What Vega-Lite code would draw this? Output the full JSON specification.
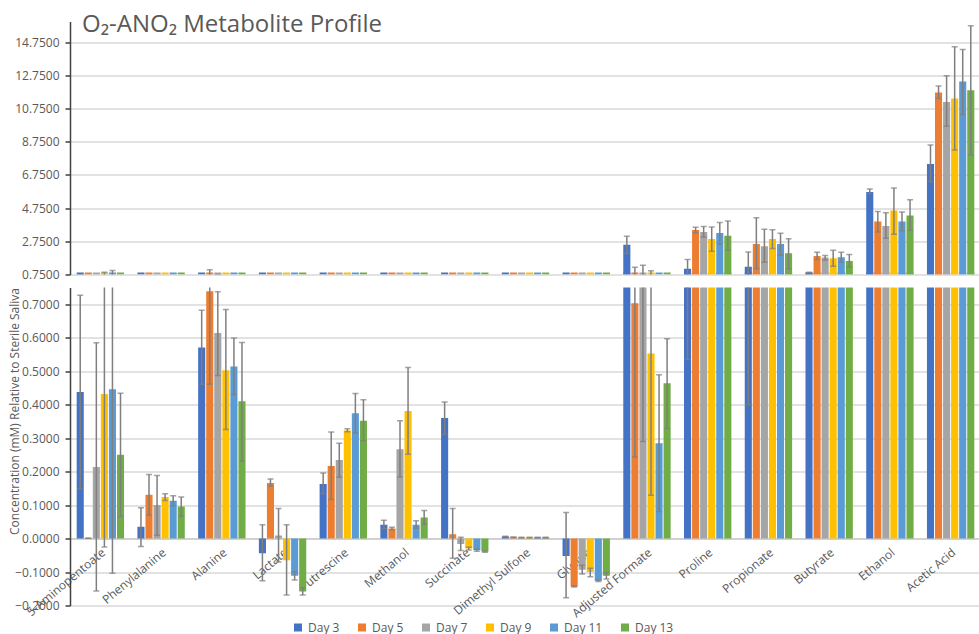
{
  "$schema": "https://vega.github.io/schema/vega-lite/v6.json",
  "padding": {"left": 8, "top": 12.5, "right": 0, "bottom": 4},
  "config": {
    "font": "Open Sans",
    "view": {"stroke": null},
    "axis": {"labelColor": "#595959", "labelFontSize": 12, "titleColor": "#595959", "gridColor": "#d9d9d9", "gridWidth": 1.3, "domainColor": "#404040", "tickColor": "#404040", "labelOverlap": false},
    "axisQuantitative": {"labelOverlap": false},
    "axisY": {"domainWidth": 1.5, "tickWidth": 1.5, "tickSize": 5, "labelPadding": 6, "labelOverlap": false},
    "legend": {"labelColor": "#595959", "labelFontSize": 12, "symbolType": "square", "symbolSize": 64, "symbolStrokeWidth": 0, "columnPadding": 16}
  },
  "data": {"values": [
    {"m": "5-Aminopentoate", "d": "Day 3", "v": 0.438, "lo": 0.149, "hi": 0.727},
    {"m": "5-Aminopentoate", "d": "Day 5", "v": 0.001, "lo": 0.001, "hi": 0.001},
    {"m": "5-Aminopentoate", "d": "Day 7", "v": 0.214, "lo": -0.157, "hi": 0.585},
    {"m": "5-Aminopentoate", "d": "Day 9", "v": 0.432, "lo": -0.025, "hi": 0.889},
    {"m": "5-Aminopentoate", "d": "Day 11", "v": 0.446, "lo": -0.104, "hi": 0.996},
    {"m": "5-Aminopentoate", "d": "Day 13", "v": 0.25, "lo": 0.066, "hi": 0.434},
    {"m": "Phenylalanine", "d": "Day 3", "v": 0.035, "lo": -0.024, "hi": 0.092},
    {"m": "Phenylalanine", "d": "Day 5", "v": 0.131, "lo": 0.07, "hi": 0.191},
    {"m": "Phenylalanine", "d": "Day 7", "v": 0.1, "lo": 0.01, "hi": 0.188},
    {"m": "Phenylalanine", "d": "Day 9", "v": 0.124, "lo": 0.114, "hi": 0.134},
    {"m": "Phenylalanine", "d": "Day 11", "v": 0.113, "lo": 0.098, "hi": 0.128},
    {"m": "Phenylalanine", "d": "Day 13", "v": 0.096, "lo": 0.067, "hi": 0.124},
    {"m": "Alanine", "d": "Day 3", "v": 0.571, "lo": 0.461, "hi": 0.682},
    {"m": "Alanine", "d": "Day 5", "v": 0.739, "lo": 0.461, "hi": 1.03},
    {"m": "Alanine", "d": "Day 7", "v": 0.614, "lo": 0.487, "hi": 0.737},
    {"m": "Alanine", "d": "Day 9", "v": 0.503, "lo": 0.326, "hi": 0.684},
    {"m": "Alanine", "d": "Day 11", "v": 0.514, "lo": 0.43, "hi": 0.599},
    {"m": "Alanine", "d": "Day 13", "v": 0.41, "lo": 0.232, "hi": 0.586},
    {"m": "Lactate", "d": "Day 3", "v": -0.044, "lo": -0.126, "hi": 0.041},
    {"m": "Lactate", "d": "Day 5", "v": 0.166, "lo": 0.156, "hi": 0.178},
    {"m": "Lactate", "d": "Day 7", "v": 0.009, "lo": -0.07, "hi": 0.09},
    {"m": "Lactate", "d": "Day 9", "v": -0.065, "lo": -0.169, "hi": 0.041},
    {"m": "Lactate", "d": "Day 11", "v": -0.111, "lo": -0.124, "hi": -0.099},
    {"m": "Lactate", "d": "Day 13", "v": -0.158, "lo": -0.169, "hi": -0.147},
    {"m": "Putrescine", "d": "Day 3", "v": 0.163, "lo": 0.134, "hi": 0.196},
    {"m": "Putrescine", "d": "Day 5", "v": 0.217, "lo": 0.117, "hi": 0.318},
    {"m": "Putrescine", "d": "Day 7", "v": 0.235, "lo": 0.183, "hi": 0.285},
    {"m": "Putrescine", "d": "Day 9", "v": 0.323, "lo": 0.319, "hi": 0.328},
    {"m": "Putrescine", "d": "Day 11", "v": 0.374, "lo": 0.315, "hi": 0.433},
    {"m": "Putrescine", "d": "Day 13", "v": 0.352, "lo": 0.292, "hi": 0.415},
    {"m": "Methanol", "d": "Day 3", "v": 0.041, "lo": 0.029, "hi": 0.055},
    {"m": "Methanol", "d": "Day 5", "v": 0.03, "lo": 0.026, "hi": 0.034},
    {"m": "Methanol", "d": "Day 7", "v": 0.267, "lo": 0.184, "hi": 0.352},
    {"m": "Methanol", "d": "Day 9", "v": 0.381, "lo": 0.252, "hi": 0.511},
    {"m": "Methanol", "d": "Day 11", "v": 0.041, "lo": 0.031, "hi": 0.053},
    {"m": "Methanol", "d": "Day 13", "v": 0.063, "lo": 0.043, "hi": 0.084},
    {"m": "Succinate", "d": "Day 3", "v": 0.36, "lo": 0.311, "hi": 0.408},
    {"m": "Succinate", "d": "Day 5", "v": 0.013, "lo": -0.059, "hi": 0.09},
    {"m": "Succinate", "d": "Day 7", "v": -0.016, "lo": -0.036, "hi": 0.004},
    {"m": "Succinate", "d": "Day 9", "v": -0.03, "lo": -0.034, "hi": -0.026},
    {"m": "Succinate", "d": "Day 11", "v": -0.035, "lo": -0.038, "hi": -0.032},
    {"m": "Succinate", "d": "Day 13", "v": -0.039, "lo": -0.041, "hi": -0.037},
    {"m": "Dimethyl Sulfone", "d": "Day 3", "v": 0.006, "lo": 0.005, "hi": 0.007},
    {"m": "Dimethyl Sulfone", "d": "Day 5", "v": 0.004, "lo": 0.003, "hi": 0.005},
    {"m": "Dimethyl Sulfone", "d": "Day 7", "v": 0.003, "lo": 0.002, "hi": 0.004},
    {"m": "Dimethyl Sulfone", "d": "Day 9", "v": 0.003, "lo": 0.002, "hi": 0.004},
    {"m": "Dimethyl Sulfone", "d": "Day 11", "v": 0.003, "lo": 0.002, "hi": 0.004},
    {"m": "Dimethyl Sulfone", "d": "Day 13", "v": 0.003, "lo": 0.002, "hi": 0.004},
    {"m": "Glycine", "d": "Day 3", "v": -0.052, "lo": -0.177, "hi": 0.078},
    {"m": "Glycine", "d": "Day 5", "v": -0.143, "lo": -0.145, "hi": -0.141},
    {"m": "Glycine", "d": "Day 7", "v": -0.093, "lo": -0.106, "hi": -0.08},
    {"m": "Glycine", "d": "Day 9", "v": -0.1, "lo": -0.114, "hi": -0.089},
    {"m": "Glycine", "d": "Day 11", "v": -0.126, "lo": -0.128, "hi": -0.124},
    {"m": "Glycine", "d": "Day 13", "v": -0.111, "lo": -0.121, "hi": -0.101},
    {"m": "Adjusted Formate", "d": "Day 3", "v": 2.54, "lo": 2.01, "hi": 3.06},
    {"m": "Adjusted Formate", "d": "Day 5", "v": 0.703, "lo": 0.244, "hi": 1.18},
    {"m": "Adjusted Formate", "d": "Day 7", "v": 0.78, "lo": 0.29, "hi": 1.31},
    {"m": "Adjusted Formate", "d": "Day 9", "v": 0.553, "lo": 0.129, "hi": 0.98},
    {"m": "Adjusted Formate", "d": "Day 11", "v": 0.285, "lo": 0.081, "hi": 0.489},
    {"m": "Adjusted Formate", "d": "Day 13", "v": 0.464, "lo": 0.329, "hi": 0.597},
    {"m": "Proline", "d": "Day 3", "v": 1.09, "lo": 0.535, "hi": 1.65},
    {"m": "Proline", "d": "Day 5", "v": 3.43, "lo": 3.26, "hi": 3.6},
    {"m": "Proline", "d": "Day 7", "v": 3.31, "lo": 2.99, "hi": 3.65},
    {"m": "Proline", "d": "Day 9", "v": 2.89, "lo": 2.15, "hi": 3.61},
    {"m": "Proline", "d": "Day 11", "v": 3.25, "lo": 2.59, "hi": 3.89},
    {"m": "Proline", "d": "Day 13", "v": 3.09, "lo": 2.21, "hi": 3.97},
    {"m": "Propionate", "d": "Day 3", "v": 1.21, "lo": 0.4, "hi": 2.1},
    {"m": "Propionate", "d": "Day 5", "v": 2.59, "lo": 1.09, "hi": 4.17},
    {"m": "Propionate", "d": "Day 7", "v": 2.45, "lo": 1.49, "hi": 3.47},
    {"m": "Propionate", "d": "Day 9", "v": 2.89, "lo": 2.31, "hi": 3.45},
    {"m": "Propionate", "d": "Day 11", "v": 2.59, "lo": 1.91, "hi": 3.23},
    {"m": "Propionate", "d": "Day 13", "v": 2.03, "lo": 1.09, "hi": 2.91},
    {"m": "Butyrate", "d": "Day 3", "v": 0.86, "lo": 0.84, "hi": 0.88},
    {"m": "Butyrate", "d": "Day 5", "v": 1.87, "lo": 1.65, "hi": 2.09},
    {"m": "Butyrate", "d": "Day 7", "v": 1.77, "lo": 1.63, "hi": 1.89},
    {"m": "Butyrate", "d": "Day 9", "v": 1.73, "lo": 1.25, "hi": 2.21},
    {"m": "Butyrate", "d": "Day 11", "v": 1.79, "lo": 1.49, "hi": 2.09},
    {"m": "Butyrate", "d": "Day 13", "v": 1.57, "lo": 1.19, "hi": 1.95},
    {"m": "Ethanol", "d": "Day 3", "v": 5.73, "lo": 5.63, "hi": 5.91},
    {"m": "Ethanol", "d": "Day 5", "v": 3.95, "lo": 3.31, "hi": 4.55},
    {"m": "Ethanol", "d": "Day 7", "v": 3.67, "lo": 2.93, "hi": 4.47},
    {"m": "Ethanol", "d": "Day 9", "v": 4.61, "lo": 3.17, "hi": 5.97},
    {"m": "Ethanol", "d": "Day 11", "v": 3.95, "lo": 3.39, "hi": 4.51},
    {"m": "Ethanol", "d": "Day 13", "v": 4.31, "lo": 3.41, "hi": 5.25},
    {"m": "Acetic Acid", "d": "Day 3", "v": 7.41, "lo": 6.32, "hi": 8.56},
    {"m": "Acetic Acid", "d": "Day 5", "v": 11.72, "lo": 11.36, "hi": 12.11},
    {"m": "Acetic Acid", "d": "Day 7", "v": 11.15, "lo": 9.68, "hi": 12.73},
    {"m": "Acetic Acid", "d": "Day 9", "v": 11.36, "lo": 8.26, "hi": 14.48},
    {"m": "Acetic Acid", "d": "Day 11", "v": 12.38, "lo": 10.4, "hi": 14.31},
    {"m": "Acetic Acid", "d": "Day 13", "v": 11.85, "lo": 7.95, "hi": 15.75}
  ]},
  "spacing": 13,
  "bounds": "flush",
  "resolve": {"scale": {"y": "independent"}},
  "vconcat": [
    {
      "width": 911,
      "height": 253,
      "title": {"text": "O₂-ANO₂ Metabolite Profile", "anchor": "start", "frame": "group", "offset": -15, "dx": 12, "fontSize": 24, "fontWeight": "normal", "color": "#595959"},
      "encoding": {
        "x": {"field": "m", "type": "nominal", "sort": ["5-Aminopentoate","Phenylalanine","Alanine","Lactate","Putrescine","Methanol","Succinate","Dimethyl Sulfone","Glycine","Adjusted Formate","Proline","Propionate","Butyrate","Ethanol","Acetic Acid"], "scale": {"paddingInner": 0.22, "paddingOuter": 0.11}, "axis": null},
        "xOffset": {"field": "d", "type": "nominal", "sort": ["Day 3","Day 5","Day 7","Day 9","Day 11","Day 13"], "scale": {"paddingInner": 0.12}}
      },
      "layer": [
        {
          "mark": {"type": "bar", "clip": true},
          "encoding": {
            "y": {"field": "v", "type": "quantitative", "stack": null, "scale": {"domain": [0.75, 16], "nice": false, "zero": false}, "axis": {"title": null, "values": [0.75, 2.75, 4.75, 6.75, 8.75, 10.75, 12.75, 14.75], "format": ".4f", "labelOverlap": false}},
            "color": {"field": "d", "type": "nominal", "sort": ["Day 3","Day 5","Day 7","Day 9","Day 11","Day 13"], "scale": {"domain": ["Day 3","Day 5","Day 7","Day 9","Day 11","Day 13"], "range": ["#4472C4","#ED7D31","#A5A5A5","#FFC000","#5B9BD5","#70AD47"]}, "legend": {"title": null, "orient": "none", "direction": "horizontal", "legendX": 222, "legendY": 600}}
          }
        },
        {
          "mark": {"type": "bar", "clip": true},
          "encoding": {
            "y": {"datum": 0.75, "type": "quantitative", "axis": {"title": null, "values": [0.75, 2.75, 4.75, 6.75, 8.75, 10.75, 12.75, 14.75], "format": ".4f", "labelOverlap": false}},
            "y2": {"datum": 0.87},
            "color": {"field": "d", "type": "nominal"}
          }
        },
        {
          "mark": {"type": "rule", "clip": true, "color": "#7f7f7f", "strokeWidth": 1.5},
          "encoding": {"y": {"field": "lo", "type": "quantitative", "axis": {"title": null, "values": [0.75, 2.75, 4.75, 6.75, 8.75, 10.75, 12.75, 14.75], "format": ".4f", "labelOverlap": false}}, "y2": {"field": "hi"}}
        },
        {
          "mark": {"type": "tick", "clip": true, "color": "#7f7f7f", "orient": "horizontal", "size": 6, "thickness": 1.5},
          "encoding": {"y": {"field": "lo", "type": "quantitative", "axis": {"title": null, "values": [0.75, 2.75, 4.75, 6.75, 8.75, 10.75, 12.75, 14.75], "format": ".4f", "labelOverlap": false}}}
        },
        {
          "mark": {"type": "tick", "clip": true, "color": "#7f7f7f", "orient": "horizontal", "size": 6, "thickness": 1.5},
          "encoding": {"y": {"field": "hi", "type": "quantitative", "axis": {"title": null, "values": [0.75, 2.75, 4.75, 6.75, 8.75, 10.75, 12.75, 14.75], "format": ".4f", "labelOverlap": false}}}
        }
      ]
    },
    {
      "width": 911,
      "height": 318,
      "encoding": {
        "x": {"field": "m", "type": "nominal", "sort": ["5-Aminopentoate","Phenylalanine","Alanine","Lactate","Putrescine","Methanol","Succinate","Dimethyl Sulfone","Glycine","Adjusted Formate","Proline","Propionate","Butyrate","Ethanol","Acetic Acid"], "scale": {"paddingInner": 0.22, "paddingOuter": 0.11}, "axis": {"title": null, "offset": -67, "ticks": false, "domain": true, "domainColor": "#bfbfbf", "labelAngle": -40, "labelAlign": "right", "labelBaseline": "top", "labelPadding": 8, "labelFontSize": 12, "labelOverlap": false}},
        "xOffset": {"field": "d", "type": "nominal", "sort": ["Day 3","Day 5","Day 7","Day 9","Day 11","Day 13"], "scale": {"paddingInner": 0.12}}
      },
      "layer": [
        {
          "mark": {"type": "bar", "clip": true},
          "encoding": {
            "y": {"field": "v", "type": "quantitative", "stack": null, "scale": {"domain": [-0.2, 0.75], "nice": false, "zero": false}, "axis": {"title": "Concentration (mM) Relative to Sterile Saliva", "titleFontSize": 12, "titleFontWeight": "normal", "titleAnchor": "end", "titlePadding": -7, "values": [-0.2, -0.1, 0, 0.1, 0.2, 0.3, 0.4, 0.5, 0.6, 0.7], "format": ".4f", "labelOverlap": false}},
            "color": {"field": "d", "type": "nominal", "sort": ["Day 3","Day 5","Day 7","Day 9","Day 11","Day 13"]}
          }
        },
        {
          "mark": {"type": "rule", "clip": true, "color": "#7f7f7f", "strokeWidth": 1.5},
          "encoding": {"y": {"field": "lo", "type": "quantitative", "axis": {"title": "Concentration (mM) Relative to Sterile Saliva", "titleFontSize": 12, "titleFontWeight": "normal", "titleAnchor": "end", "titlePadding": -7, "values": [-0.2, -0.1, 0, 0.1, 0.2, 0.3, 0.4, 0.5, 0.6, 0.7], "format": ".4f", "labelOverlap": false}}, "y2": {"field": "hi"}}
        },
        {
          "mark": {"type": "tick", "clip": true, "color": "#7f7f7f", "orient": "horizontal", "size": 6, "thickness": 1.5},
          "encoding": {"y": {"field": "lo", "type": "quantitative", "axis": {"title": "Concentration (mM) Relative to Sterile Saliva", "titleFontSize": 12, "titleFontWeight": "normal", "titleAnchor": "end", "titlePadding": -7, "values": [-0.2, -0.1, 0, 0.1, 0.2, 0.3, 0.4, 0.5, 0.6, 0.7], "format": ".4f", "labelOverlap": false}}}
        },
        {
          "mark": {"type": "tick", "clip": true, "color": "#7f7f7f", "orient": "horizontal", "size": 6, "thickness": 1.5},
          "encoding": {"y": {"field": "hi", "type": "quantitative", "axis": {"title": "Concentration (mM) Relative to Sterile Saliva", "titleFontSize": 12, "titleFontWeight": "normal", "titleAnchor": "end", "titlePadding": -7, "values": [-0.2, -0.1, 0, 0.1, 0.2, 0.3, 0.4, 0.5, 0.6, 0.7], "format": ".4f", "labelOverlap": false}}}
        }
      ]
    }
  ]
}
